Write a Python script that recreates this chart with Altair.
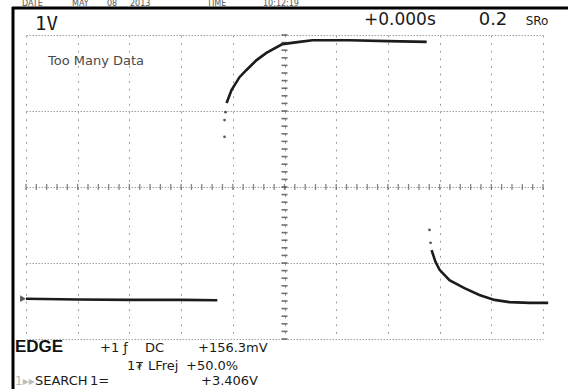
import altair as alt
import numpy as np
import pandas as pd

# Channel 1 record: time in seconds (0.2 s/div), level in volts (1 V/div)
low_t = [-1.0, -0.8, -0.6, -0.4, -0.26]
low_v = [-2.94, -2.96, -2.97, -2.97, -2.98]
rise_t = [-0.224, -0.205, -0.174, -0.147, -0.108, -0.070, -0.008, 0.058, 0.108, 0.25, 0.40, 0.55]
rise_v = [2.21, 2.55, 2.89, 3.08, 3.34, 3.53, 3.76, 3.82, 3.86, 3.86, 3.84, 3.82]
fall_t = [0.569, 0.584, 0.600, 0.638, 0.696, 0.754, 0.812, 0.870, 0.95, 1.02]
fall_v = [-1.66, -1.97, -2.18, -2.45, -2.66, -2.84, -2.97, -3.03, -3.05, -3.05]
# sparse samples caught on the fast part of each edge
edge_t = [-0.232, -0.232, -0.228, 0.561, 0.565]
edge_v = [1.32, 1.76, 1.97, -1.13, -1.47]

# graticule: 10 x 8 divisions
x_div = [round(-1.0 + 0.2 * i, 2) for i in range(11)]
y_div = list(range(-4, 5))
x_sub = [round(v, 2) for v in np.arange(-1.0, 1.0001, 0.04)]
y_sub = [round(v, 2) for v in np.arange(-4.0, 4.0001, 0.2)]

trace = pd.concat([
    pd.DataFrame({"t": low_t, "v": low_v, "seg": "low"}),
    pd.DataFrame({"t": rise_t, "v": rise_v, "seg": "rise"}),
    pd.DataFrame({"t": fall_t, "v": fall_v, "seg": "fall"}),
])
edges = pd.DataFrame({"t": edge_t, "v": edge_v})

xs = alt.Scale(domain=[-1.0, 1.0], nice=False, zero=False)
ys = alt.Scale(domain=[-4, 4], nice=False, zero=False)

x_axis = alt.Axis(values=x_div, grid=True, labels=False, ticks=False, domain=False,
                  title=None, gridDash=[2, 5.6], gridColor="#a0a0a0", gridWidth=1)
y_axis = alt.Axis(values=y_div, grid=True, labels=False, ticks=False, domain=False,
                  title=None, gridDash=[1.5, 1.5], gridColor="#a0a0a0", gridWidth=1)

line = alt.Chart(trace).mark_line(color="#1c1c1c", strokeWidth=2.6).encode(
    x=alt.X("t:Q", scale=xs, axis=x_axis),
    y=alt.Y("v:Q", scale=ys, axis=y_axis),
    detail="seg:N",
)

dots = alt.Chart(edges).mark_point(filled=True, size=8, color="#333", opacity=0.8).encode(
    x=alt.X("t:Q", scale=xs), y=alt.Y("v:Q", scale=ys)
)

# ground marker at the left edge of the low level
gnd = alt.Chart(pd.DataFrame({"t": [low_t[0]], "v": [low_v[0]]})).mark_point(
    shape="triangle-right", filled=True, size=45, color="#111", xOffset=-3
).encode(x=alt.X("t:Q", scale=xs), y=alt.Y("v:Q", scale=ys))

# sub-division marks along the centre axes
hticks = alt.Chart(pd.DataFrame({"t": x_sub})).mark_tick(
    orient="vertical", size=6, thickness=1.3, color="#555"
).encode(x=alt.X("t:Q", scale=xs), y=alt.datum(0, scale=ys))
vticks = alt.Chart(pd.DataFrame({"v": y_sub})).mark_tick(
    orient="horizontal", size=6, thickness=1.6, color="#333"
).encode(y=alt.Y("v:Q", scale=ys), x=alt.datum(0, scale=xs))

one = pd.DataFrame({"_": [0]})


def label(text, x, y, size=13, font="DejaVu Sans", weight="normal", color="#1a1a1a", align="left"):
    return alt.Chart(one).mark_text(
        text=text, font=font, fontSize=size, fontWeight=weight, color=color,
        align=align, baseline="alphabetic"
    ).encode(x=alt.value(x), y=alt.value(y))


texts = [
    # header line above the frame
    label("DATE", -4, -29, 8, color="#555"),
    label("MAY", 46, -29, 8, color="#555"),
    label("08", 81, -29, 8, color="#555"),
    label("2013", 104, -29, 8, color="#555"),
    label("TIME", 181, -29, 8, color="#555"),
    label("10:12:19", 237, -29, 8, color="#555"),
    # scale readouts
    label("1V", 9, -5, 19, font="DejaVu Sans Mono"),
    label("+0.000s", 338, -10, 17),
    label("0.2", 467, -10, 18, align="center"),
    label("SRo", 511, -10, 12, align="center"),
    label("Too Many Data", 22, 30, 13, color="#4a4a4a"),
    # trigger panel
    label("EDGE", -11, 317, 17, font="Liberation Sans", weight="bold", color="#111"),
    label("+1 ƒ", 74, 317),
    label("DC", 119, 317),
    label("+156.3mV", 172, 317),
    label("1", 101, 335),
    label("₮", 110, 335, 11),
    label("LFrej", 122, 335),
    label("+50.0%", 160, 335),
    label("1▸▸", -11, 350, 12, color="#bbbbbb"),
    label("SEARCH", 9, 350),
    label("1=", 64, 350),
    label("+3.406V", 175, 350),
]

# black frame along the top and left edges
frame_left = alt.Chart(one).mark_rule(color="black", strokeWidth=3).encode(
    x=alt.value(-13), y=alt.value(-28), y2=alt.value(354)
)
frame_top = alt.Chart(one).mark_rule(color="black", strokeWidth=3).encode(
    y=alt.value(-27), x=alt.value(-14), x2=alt.value(542)
)

chart = alt.layer(
    line, hticks, vticks, dots, gnd, frame_left, frame_top, *texts
).properties(
    width=517, height=304,
    padding={"left": 26, "top": 35, "right": 25, "bottom": 50},
    autosize=alt.AutoSizeParams(type="none"),
    background="white",
).configure_view(stroke=None)

chart.save("out.html", embed_options={"renderer": "svg", "actions": False})
